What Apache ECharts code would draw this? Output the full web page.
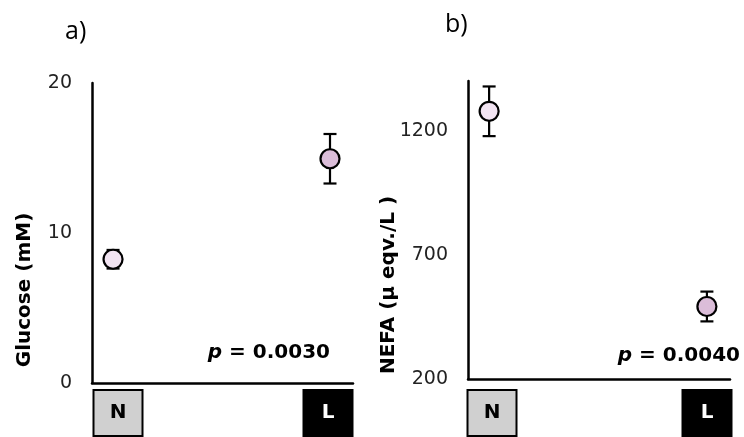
<!DOCTYPE html>
<html>
<head>
<meta charset="utf-8">
<script src="https://cdn.jsdelivr.net/npm/echarts@6/dist/echarts.min.js"></script>
<style>
  html, body { margin: 0; padding: 0; background: #fff; }
  #chart { width: 744px; height: 437px; }
</style>
</head>
<body>
<div id="chart"></div>
<script>
// 数据
const groups = ['N', 'L'];
const glucoseMean = [8.25, 14.95];
const glucoseErr = [0.62, 1.65];
const nefaMean = [1278, 492];
const nefaErr = [100, 60];
const glucoseTicks = [0, 10, 20];
const nefaTicks = [200, 700, 1200];
const pGlucose = '0.0030';
const pNefa = '0.0040';

const markerColors = ['#f2e4f2', '#dbbdd9'];
const boxFill = ['#d0d0d0', '#000000'];
const boxText = ['#000000', '#ffffff'];

// x 轴：组序号 0/1，左右留白
const xMin = -0.097, xMax = 1.106;

function points(means) {
  return means.map((v, i) => ({
    value: [i, v],
    itemStyle: { color: markerColors[i] }
  }));
}
function bars(means, errs) {
  return means.map((v, i) => [i, v - errs[i], v + errs[i]]);
}
function errorItem(params, api) {
  const x = api.value(0);
  const lo = api.coord([x, api.value(1)]);
  const hi = api.coord([x, api.value(2)]);
  const half = 6.5;
  const st = { stroke: '#000', lineWidth: 2.2 };
  return {
    type: 'group',
    children: [
      { type: 'line', shape: { x1: lo[0], y1: lo[1], x2: hi[0], y2: hi[1] }, style: st },
      { type: 'line', shape: { x1: lo[0] - half, y1: lo[1], x2: lo[0] + half, y2: lo[1] }, style: st },
      { type: 'line', shape: { x1: hi[0] - half, y1: hi[1], x2: hi[0] + half, y2: hi[1] }, style: st }
    ]
  };
}

const boxRich = {};
groups.forEach((g, i) => {
  boxRich['c' + i] = {
    backgroundColor: boxFill[i],
    borderColor: '#000',
    borderWidth: 2,
    width: 47,
    height: 44,
    lineHeight: 44,
    align: 'center',
    color: boxText[i],
    fontFamily: 'DejaVu Sans',
    fontWeight: 'bold',
    fontSize: 20
  };
});

function valueX(gridIndex) {
  return {
    type: 'value', gridIndex: gridIndex, min: xMin, max: xMax,
    axisLine: { show: true, onZero: false, lineStyle: { color: '#000', width: 2.5 } },
    axisTick: { show: false }, axisLabel: { show: false }, splitLine: { show: false }
  };
}
function labelX(gridIndex, margin) {
  return {
    type: 'category', gridIndex: gridIndex, data: groups, boundaryGap: false,
    axisLine: { show: false }, axisTick: { show: false },
    axisLabel: {
      margin: margin,
      formatter: (v, i) => '{c' + i + '|' + v + '}',
      rich: boxRich
    }
  };
}
function valueY(gridIndex, min, max, ticks) {
  return {
    type: 'value', gridIndex: gridIndex, min: min, max: max,
    axisLine: { show: true, onZero: false, lineStyle: { color: '#000', width: 2.5 } },
    axisTick: { show: false }, splitLine: { show: false },
    axisLabel: {
      customValues: ticks, margin: 20,
      formatter: v => String(v),
      color: '#222', fontFamily: 'DejaVu Sans', fontSize: 19
    }
  };
}
function hiddenY(gridIndex, min, max) {
  return { type: 'value', gridIndex: gridIndex, min: min, max: max, show: false };
}

const chart = echarts.init(document.getElementById('chart'));
chart.setOption({
  animation: false,
  grid: [
    { left: 92, right: 391, top: 83, bottom: 54 },
    { left: 118, right: 416, top: 83, bottom: 54 },
    { left: 468, right: 14, top: 81, bottom: 58 },
    { left: 492, right: 37, top: 81, bottom: 58 }
  ],
  xAxis: [valueX(0), labelX(1, 8), valueX(2), labelX(3, 12)],
  yAxis: [
    valueY(0, 0, 20, glucoseTicks),
    hiddenY(1, 0, 20),
    valueY(2, 200, 1400, nefaTicks),
    hiddenY(3, 200, 1400)
  ],
  series: [
    { type: 'custom', xAxisIndex: 0, yAxisIndex: 0, renderItem: errorItem, data: bars(glucoseMean, glucoseErr), z: 2 },
    { type: 'scatter', xAxisIndex: 0, yAxisIndex: 0, symbolSize: 19, data: points(glucoseMean),
      itemStyle: { borderColor: '#000', borderWidth: 2.2, opacity: 1 }, z: 3 },
    { type: 'custom', xAxisIndex: 2, yAxisIndex: 2, renderItem: errorItem, data: bars(nefaMean, nefaErr), z: 2 },
    { type: 'scatter', xAxisIndex: 2, yAxisIndex: 2, symbolSize: 19, data: points(nefaMean),
      itemStyle: { borderColor: '#000', borderWidth: 2.2, opacity: 1 }, z: 3 }
  ],
  graphic: [
    { type: 'text', x: 65, y: 32, style: { text: 'a)', font: '25px "Open Sans"', fill: '#000', verticalAlign: 'middle' } },
    { type: 'text', x: 445, y: 25, style: { text: 'b)', font: '25px "Open Sans"', fill: '#000', verticalAlign: 'middle' } },
    { type: 'text', x: 25, y: 290, rotation: Math.PI / 2,
      style: { text: 'Glucose (mM)', font: 'bold 20px "DejaVu Sans"', fill: '#000', align: 'center', verticalAlign: 'middle' } },
    { type: 'text', x: 389, y: 285, rotation: Math.PI / 2,
      style: { text: 'NEFA (μ eqv./L )', font: 'bold 20px "DejaVu Sans"', fill: '#000', align: 'center', verticalAlign: 'middle' } },
    { type: 'text', x: 330, y: 353,
      style: { text: '{i|p} = ' + pGlucose, font: 'bold 20px "DejaVu Sans"', fill: '#000', align: 'right', verticalAlign: 'middle',
        rich: { i: { fontStyle: 'italic', fontWeight: 'bold', fontSize: 20, fontFamily: 'DejaVu Sans' } } } },
    { type: 'text', x: 740, y: 356,
      style: { text: '{i|p} = ' + pNefa, font: 'bold 20px "DejaVu Sans"', fill: '#000', align: 'right', verticalAlign: 'middle',
        rich: { i: { fontStyle: 'italic', fontWeight: 'bold', fontSize: 20, fontFamily: 'DejaVu Sans' } } } }
  ]
});
</script>
</body>
</html>
